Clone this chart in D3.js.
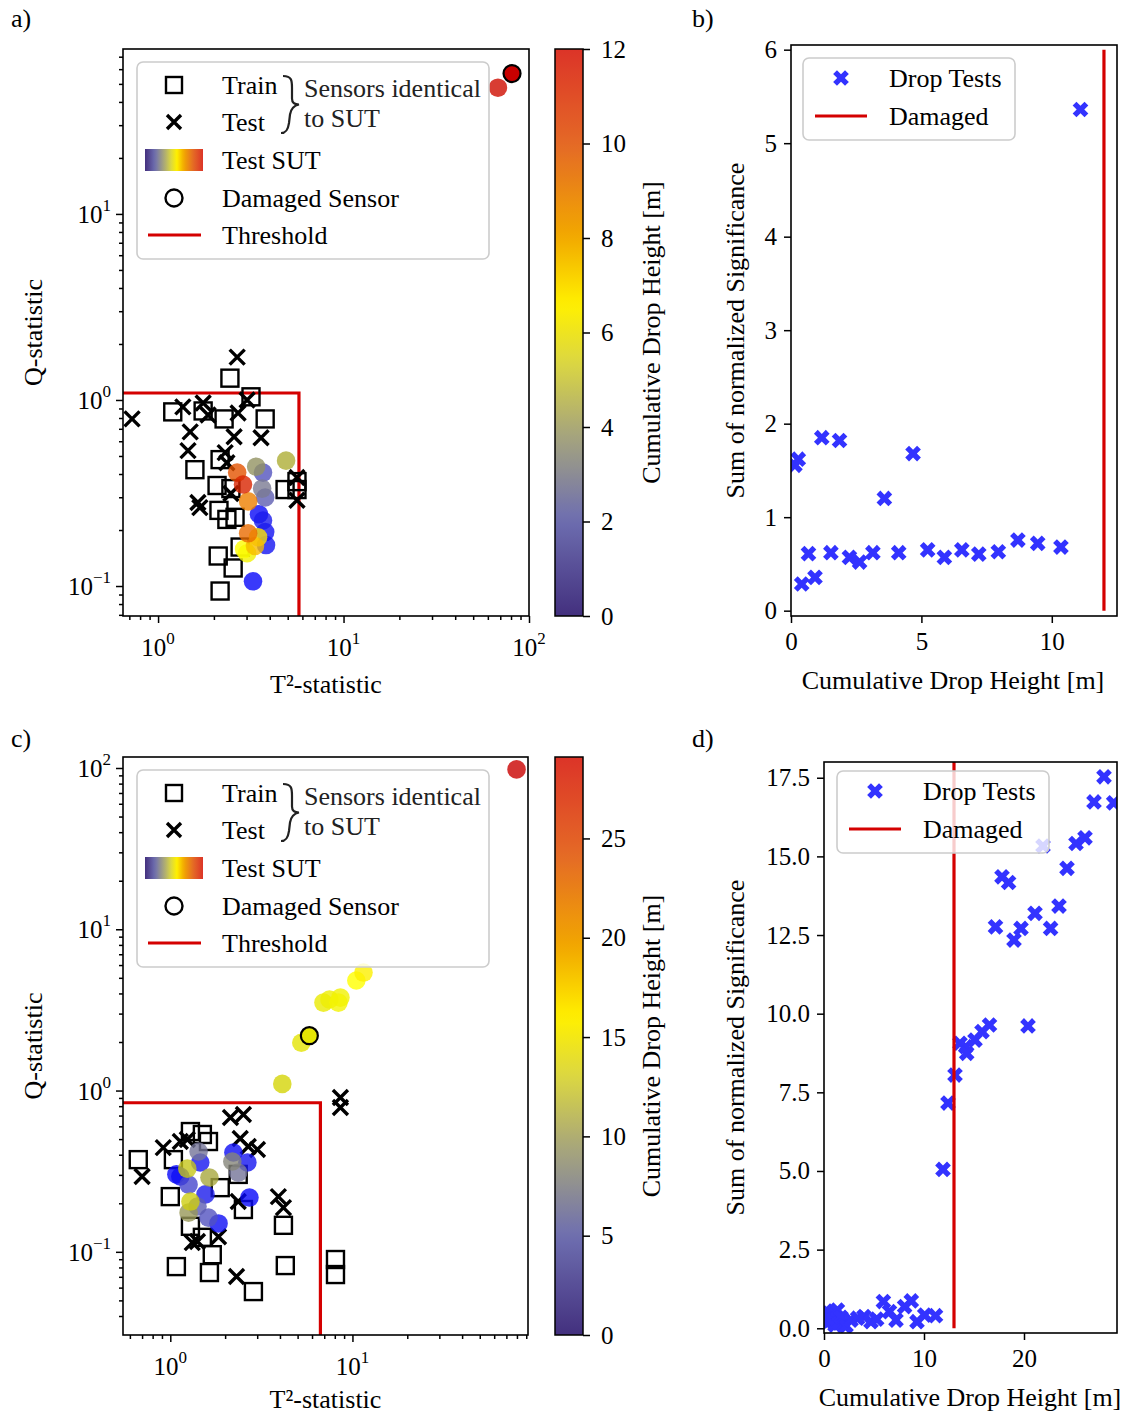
<!DOCTYPE html>
<html><head><meta charset="utf-8">
<script src="https://cdn.jsdelivr.net/npm/d3@7"></script>
<style>
body{margin:0;background:#fff}
svg{display:block}
text{font-family:"Liberation Serif","Times New Roman",serif;fill:#000}
</style></head>
<body><svg id="c" width="1128" height="1416"></svg>
<script>
// ---------------- DATA ----------------
// Panel a: [T2, Q]
const aTrain = [[2.44,1.31],[3.17,1.04],[1.20,0.863],[1.75,0.873],[2.27,0.791],[3.78,0.791],[1.58,0.422],[2.16,0.478],[2.08,0.347],[2.47,0.334],[4.84,0.330],[5.61,0.364],[5.61,0.330],[2.13,0.255],[2.35,0.228],[2.60,0.234],[2.77,0.162],[2.11,0.145],[2.54,0.125],[2.16,0.094]];
const aTest = [[2.67,1.70],[0.724,0.791],[1.36,0.918],[1.75,0.964],[1.86,0.831],[2.70,0.851],[3.02,1.0],[1.49,0.674],[2.57,0.634],[3.59,0.626],[1.45,0.534],[2.30,0.521],[1.64,0.281],[1.68,0.264],[5.61,0.289],[5.61,0.383],[2.35,0.460],[2.47,0.314]];
// [T2, Q, cumulative drop height]
const aSUT = [[4.90,0.472,4.3],[2.67,0.407,9.3],[2.87,0.351,10.5],[3.38,0.438,3.6],[3.68,0.407,2.3],[3.64,0.334,3.0],[3.78,0.299,2.5],[3.06,0.285,8.4],[3.50,0.243,0.3],[3.68,0.225,0.8],[3.78,0.195,0.5],[3.06,0.192,8.8],[3.46,0.183,7.0],[3.33,0.164,7.5],[3.02,0.150,6.2],[3.82,0.166,0.6],[3.25,0.106,0.2],[2.91,0.158,6.5],[68,47.7,11.5]];
const aDamaged = [[81,56.8,12]];
const aThreshold = [5.75, 1.09];       // [T2 limit, Q limit]
const aXDomain = [0.647, 100], aYDomain = [0.069, 77];
const aCbarMax = 12, aCbarTicks = [0,2,4,6,8,10,12];

// Panel c
const cTrain = [[0.667,0.373],[1.04,0.373],[1.29,0.557],[1.50,0.534],[1.62,0.483],[1.0,0.220],[1.88,0.250],[2.36,0.302],[2.52,0.183],[1.29,0.144],[1.50,0.123],[1.70,0.096],[1.08,0.081],[1.64,0.0744],[2.86,0.0567],[4.18,0.146],[4.28,0.0822],[8.07,0.0896],[8.07,0.0723]];
const cTest = [[0.70,0.293],[0.915,0.443],[1.135,0.483],[1.24,0.497],[2.14,0.680],[2.52,0.710],[2.42,0.504],[2.68,0.450],[3.01,0.431],[3.92,0.220],[4.18,0.188],[2.36,0.205],[1.32,0.114],[1.41,0.116],[1.84,0.124],[2.31,0.0703],[8.59,0.905],[8.59,0.785]];
const cSUT = [[1.135,0.293,1],[1.43,0.419,7],[1.46,0.358,1.5],[1.24,0.328,12],[1.64,0.289,10],[1.26,0.261,5],[1.56,0.227,2],[1.29,0.205,12.5],[1.26,0.175,9],[1.62,0.163,5.5],[1.84,0.150,1],[2.22,0.413,1],[2.19,0.363,8],[2.65,0.358,1.5],[2.36,0.310,7],[2.72,0.217,0.5],[1.41,0.191,6],[1.08,0.302,0.5],[11.5,5.39,16.5],[10.5,4.81,16],[6.93,3.51,14.5],[7.48,3.67,14.8],[8.59,3.77,15],[8.38,3.51,15.2],[5.24,1.98,14],[4.12,1.10,13],[79.6,98,29]];
const cDamaged = [[5.80,2.19,14.2]];
const cThreshold = [6.67, 0.84];
const cXDomain = [0.55, 92], cYDomain = [0.0305, 117];
const cCbarMax = 29.1, cCbarTicks = [0,5,10,15,20,25];

// Panel b: cumulative drop height vs sum of normalized significance
const bHeight = [0.15,0.28,1.18,1.86,4.68,3.58,0.41,0.92,0.67,1.53,2.24,2.63,3.14,4.13,5.24,5.88,6.55,7.2,7.95,8.7,9.46,10.35,11.1];
const bSig    = [1.555,1.62,1.85,1.82,1.68,1.20,0.285,0.356,0.61,0.62,0.57,0.52,0.62,0.62,0.65,0.57,0.65,0.605,0.63,0.755,0.72,0.68,5.36];
const bDamaged = [12, 0, 6];           // [height, from, to]
const bXTicks = [0,5,10], bYTicks = [0,1,2,3,4,5,6];

// Panel d
const dHeight = [0.1,0.2,0.3,0.4,0.5,0.6,0.84,1.0,1.1,1.34,1.5,1.7,2.0,2.2,2.7,3.36,4.0,4.7,5.27,5.94,6.55,7.2,8.06,8.73,9.3,10.07,11.15,11.9,12.4,13.1,13.6,14.17,14.27,15.1,15.8,16.55,17.15,17.8,18.46,19.0,19.7,20.4,21.1,21.9,22.66,23.5,24.3,25.2,26.1,27.0,28.0,28.97];
const dSig    = [0.35,0.55,0.16,0.45,0.48,0.25,0.26,0.3,0.1,0.58,0.16,0.35,0.1,0.07,0.26,0.32,0.37,0.21,0.29,0.85,0.53,0.26,0.69,0.87,0.21,0.42,0.40,5.05,7.16,8.05,9.06,8.95,8.74,9.16,9.43,9.64,12.76,14.35,14.17,12.34,12.71,9.61,13.19,15.33,12.71,13.42,14.62,15.41,15.59,16.73,17.53,16.70];
const dDamaged = [13, 0, 18];
const dXTicks = [0,10,20], dYTicks = [0,2.5,5,7.5,10,12.5,15,17.5];

// ---------------- STYLE ----------------
const RED = "#d40000", BLUE = "#3333ff";
const stopPos = [0,0.17,0.25,0.33,0.45,0.55,0.67,0.83,1];
const cbarCols = ["#43307e","#6e6eb0","#8c8c94","#aaa878","#dcd840","#fff000","#f2a800","#e46a26","#dc3428"];
const ptCols   = ["#0000ff","#4545ce","#7a7a92","#a1a145","#d6d606","#ffff00","#f29200","#dd3100","#c90000"];
const cbarScale = d3.scaleLinear().domain(stopPos).range(cbarCols).interpolate(d3.interpolateRgb).clamp(true);
const ptScale = d3.scaleLinear().domain(stopPos).range(ptCols).interpolate(d3.interpolateRgb).clamp(true);
const TICK_FS = 25, LAB_FS = 26;

const svg = d3.select("#c");
svg.append("rect").attr("width",1128).attr("height",1416).attr("fill","#fff");
const defs = svg.append("defs");

function supText(sel, n){
  sel.append("tspan").text("10");
  sel.append("tspan").attr("dy",-12).attr("font-size",17).text(n<0 ? "\u2212"+(-n) : String(n));
}
function styleAxis(g){
  g.select(".domain").remove();
  g.selectAll(".tick line").attr("stroke","#000").attr("stroke-width",1.5);
  g.selectAll(".tick text").attr("font-size",TICK_FS).attr("font-family",'"Liberation Serif",serif').attr("fill","#000");
}
function decades(d){const a=[];for(let n=Math.floor(Math.log10(d[0]));n<=Math.ceil(Math.log10(d[1]));n++){const v=Math.pow(10,n);if(v>=d[0]*0.9999&&v<=d[1]*1.0001)a.push(n);}return a;}
function minors(d){const a=[];for(let n=Math.floor(Math.log10(d[0]));n<=Math.ceil(Math.log10(d[1]));n++){for(let k=2;k<=9;k++){const v=k*Math.pow(10,n);if(v>=d[0]&&v<=d[1])a.push(v);}}return a;}

function rotLabel(x,y,txt){
  svg.append("text").attr("transform",`translate(${x},${y}) rotate(-90)`).attr("text-anchor","middle")
    .attr("dy","0.35em").attr("font-size",LAB_FS).text(txt);
}
function xMarker(g,cx,cy,s){
  g.append("path").attr("d",`M${cx-s},${cy-s}L${cx+s},${cy+s}M${cx-s},${cy+s}L${cx+s},${cy-s}`)
   .attr("stroke","#000").attr("stroke-width",3.4).attr("fill","none");
}
function bigX(){ // filled 'X' marker path centred at 0
  const w=2.7,L=8.4;
  const p=[[-w,-L],[w,-L],[w,-w],[L,-w],[L,w],[w,w],[w,L],[-w,L],[-w,w],[-L,w],[-L,-w],[-w,-w]];
  const c=Math.SQRT1_2;
  return "M"+p.map(([x,y])=>[(x-y)*c,(x+y)*c].join(",")).join("L")+"Z";
}

// ---------- scatter panel (a, c) ----------
function scatterPanel(o){
  const {L,R,T,B} = o;
  const x = d3.scaleLog().domain(o.xd).range([L,R]);
  const y = d3.scaleLog().domain(o.yd).range([B,T]);
  const id = "clip"+o.name;
  defs.append("clipPath").attr("id",id).append("rect").attr("x",L).attr("y",T).attr("width",R-L).attr("height",B-T);
  const g = svg.append("g");
  const pg = g.append("g").attr("clip-path",`url(#${id})`);
  // threshold
  const th = o.thr;
  pg.append("path").attr("d",`M${L},${y(th[1])}H${x(th[0])}V${B}`).attr("fill","none").attr("stroke",RED).attr("stroke-width",3.2);
  // train squares
  pg.selectAll(".sq").data(o.train).join("rect").attr("x",d=>x(d[0])-8.5).attr("y",d=>y(d[1])-8.5)
    .attr("width",17).attr("height",17).attr("fill","none").attr("stroke","#000").attr("stroke-width",2.4);
  // test x
  o.test.forEach(d=>xMarker(pg,x(d[0]),y(d[1]),7.5));
  // SUT
  const sut = o.sut.slice().sort((a,b)=>a[2]-b[2]);
  pg.selectAll(".sut").data(sut).join("circle").attr("cx",d=>x(d[0])).attr("cy",d=>y(d[1])).attr("r",9.3)
    .attr("fill",d=>ptScale(d[2]/o.cmax)).attr("fill-opacity",0.8);
  pg.selectAll(".dam").data(o.dam).join("circle").attr("cx",d=>x(d[0])).attr("cy",d=>y(d[1])).attr("r",8.5)
    .attr("fill",d=>ptScale(d[2]/o.cmax)).attr("stroke","#000").attr("stroke-width",2.2);
  // axes
  const xa = g.append("g").attr("transform",`translate(0,${B})`);
  xa.append("g").call(d3.axisBottom(x).tickValues(decades(o.xd).map(n=>Math.pow(10,n))).tickSize(7).tickFormat("")).call(styleAxis);
  xa.append("g").call(d3.axisBottom(x).tickValues(minors(o.xd)).tickSize(4).tickFormat("")).call(styleAxis);
  decades(o.xd).forEach(n=>{
    const t = g.append("text").attr("x",x(Math.pow(10,n))).attr("y",B+40).attr("text-anchor","middle").attr("font-size",TICK_FS);
    supText(t,n);
  });
  const ya = g.append("g").attr("transform",`translate(${L},0)`);
  ya.append("g").call(d3.axisLeft(y).tickValues(decades(o.yd).map(n=>Math.pow(10,n))).tickSize(7).tickFormat("")).call(styleAxis);
  ya.append("g").call(d3.axisLeft(y).tickValues(minors(o.yd)).tickSize(4).tickFormat("")).call(styleAxis);
  decades(o.yd).forEach(n=>{
    const t = g.append("text").attr("x",L-12).attr("y",y(Math.pow(10,n))+9).attr("text-anchor","end").attr("font-size",TICK_FS);
    supText(t,n);
  });
  g.append("rect").attr("x",L).attr("y",T).attr("width",R-L).attr("height",B-T).attr("fill","none").attr("stroke","#000").attr("stroke-width",1.6);
  g.append("text").attr("x",(L+R)/2).attr("y",Math.min(B+77,1408)).attr("text-anchor","middle").attr("font-size",LAB_FS).text("T\u00b2-statistic");
  rotLabel(33,(T+B)/2,"Q-statistic");
  // legend
  const lx=L+14, ly=T+13;
  const lg = g.append("g");
  lg.append("rect").attr("x",lx).attr("y",ly).attr("width",352).attr("height",197).attr("rx",6)
    .attr("fill","#fff").attr("fill-opacity",0.8).attr("stroke","#cccccc").attr("stroke-width",1.6);
  const mx = lx+37, tx = lx+85;
  const rows = [23,60,98,136,173].map(v=>ly+v);
  lg.append("rect").attr("x",mx-8).attr("y",rows[0]-8).attr("width",16).attr("height",16).attr("fill","none").attr("stroke","#000").attr("stroke-width",2.4);
  xMarker(lg,mx,rows[1],7);
  const gid="lgrad"+o.name;
  const lgGrad = defs.append("linearGradient").attr("id",gid).attr("x1",0).attr("x2",1).attr("y1",0).attr("y2",0);
  d3.range(0,1.0001,0.05).forEach(t=>lgGrad.append("stop").attr("offset",t).attr("stop-color",cbarScale(t)));
  lg.append("rect").attr("x",lx+8).attr("y",rows[2]-11).attr("width",58).attr("height",22).attr("fill",`url(#${gid})`);
  lg.append("circle").attr("cx",mx).attr("cy",rows[3]).attr("r",8.5).attr("fill","none").attr("stroke","#000").attr("stroke-width",2.4);
  lg.append("line").attr("x1",lx+11).attr("x2",lx+64).attr("y1",rows[4]).attr("y2",rows[4]).attr("stroke",RED).attr("stroke-width",3.2);
  ["Train","Test","Test SUT","Damaged Sensor","Threshold"].forEach((s,i)=>
    lg.append("text").attr("x",tx).attr("y",rows[i]).attr("dy","0.33em").attr("font-size",LAB_FS).text(s));
  // brace
  const bx = lx+146, by0 = ly+14, by1 = ly+71, bm = (by0+by1)/2;
  lg.append("path").attr("d",`M${bx},${by0} C${bx+9},${by0} ${bx+9},${by0+5} ${bx+9},${by0+12} L${bx+9},${bm-6} C${bx+9},${bm-2} ${bx+12},${bm} ${bx+16},${bm} C${bx+11},${bm+1} ${bx+8},${bm+4} ${bx+7},${bm+10} L${bx+6},${by1-10} C${bx+5},${by1-3} ${bx+3},${by1} ${bx-2},${by1}`)
    .attr("fill","none").attr("stroke","#222").attr("stroke-width",2.2);
  lg.append("text").attr("x",lx+167).attr("y",ly+26).attr("dy","0.33em").attr("font-size",LAB_FS).style("fill","#222").text("Sensors identical");
  lg.append("text").attr("x",lx+167).attr("y",ly+56).attr("dy","0.33em").attr("font-size",LAB_FS).style("fill","#222").text("to SUT");
  // colorbar
  const cx0 = o.cbx, cw = 28;
  const cs = d3.scaleLinear().domain([0,o.cmax]).range([B,T]);
  const cgid="cgrad"+o.name;
  const cg = defs.append("linearGradient").attr("id",cgid).attr("x1",0).attr("x2",0).attr("y1",1).attr("y2",0);
  d3.range(0,1.0001,0.02).forEach(t=>cg.append("stop").attr("offset",t).attr("stop-color",cbarScale(t)));
  g.append("rect").attr("x",cx0).attr("y",T).attr("width",cw).attr("height",B-T).attr("fill",`url(#${cgid})`).attr("stroke","#000").attr("stroke-width",1.5);
  g.append("g").attr("transform",`translate(${cx0+cw},0)`).call(d3.axisRight(cs).tickValues(o.cticks).tickSize(7).tickPadding(11).tickFormat(d3.format("d"))).call(styleAxis);
  rotLabel(651,(T+B)/2,"Cumulative Drop Height [m]");
}

// ---------- significance panel (b, d) ----------
function sigPanel(o){
  const {L,R,T,B} = o;
  const x = d3.scaleLinear().domain(o.xd).range([L,R]);
  const y = d3.scaleLinear().domain(o.yd).range([B,T]);
  const id = "clip"+o.name;
  defs.append("clipPath").attr("id",id).append("rect").attr("x",L).attr("y",T).attr("width",R-L).attr("height",B-T);
  const g = svg.append("g");
  const pg = g.append("g").attr("clip-path",`url(#${id})`);
  const pts = o.h.map((h,i)=>[h,o.s[i]]);
  pg.selectAll(".x").data(pts).join("path").attr("d",bigX()).attr("transform",d=>`translate(${x(d[0])},${y(d[1])})`).attr("fill",BLUE);
  pg.append("line").attr("x1",x(o.dam[0])).attr("x2",x(o.dam[0])).attr("y1",y(o.dam[1])).attr("y2",y(o.dam[2])).attr("stroke",RED).attr("stroke-width",3.2);
  g.append("g").attr("transform",`translate(0,${B})`).call(d3.axisBottom(x).tickValues(o.xt).tickSize(7).tickPadding(9).tickFormat(d3.format("d"))).call(styleAxis);
  g.append("g").attr("transform",`translate(${L},0)`).call(d3.axisLeft(y).tickValues(o.yt).tickSize(7).tickPadding(7).tickFormat(o.yfmt)).call(styleAxis);
  g.append("rect").attr("x",L).attr("y",T).attr("width",R-L).attr("height",B-T).attr("fill","none").attr("stroke","#000").attr("stroke-width",1.6);
  g.append("text").attr("x",o.xlabX).attr("y",B+73).attr("text-anchor","middle").attr("font-size",LAB_FS).text("Cumulative Drop Height [m]");
  rotLabel(735,(T+B)/2,"Sum of normalized Significance");
  // legend
  const lx=o.lx, ly=o.ly;
  g.append("rect").attr("x",lx).attr("y",ly).attr("width",212).attr("height",82).attr("rx",6)
    .attr("fill","#fff").attr("fill-opacity",0.8).attr("stroke","#cccccc").attr("stroke-width",1.6);
  g.append("path").attr("d",bigX()).attr("transform",`translate(${lx+38},${ly+20})`).attr("fill",BLUE);
  g.append("line").attr("x1",lx+12).attr("x2",lx+64).attr("y1",ly+58).attr("y2",ly+58).attr("stroke",RED).attr("stroke-width",3.2);
  g.append("text").attr("x",lx+86).attr("y",ly+20).attr("dy","0.33em").attr("font-size",LAB_FS).text("Drop Tests");
  g.append("text").attr("x",lx+86).attr("y",ly+58).attr("dy","0.33em").attr("font-size",LAB_FS).text("Damaged");
}

scatterPanel({name:"a",L:123,R:529,T:49,B:616,xd:aXDomain,yd:aYDomain,train:aTrain,test:aTest,sut:aSUT,dam:aDamaged,thr:aThreshold,cmax:aCbarMax,cticks:aCbarTicks,cbx:555});
scatterPanel({name:"c",L:123,R:528,T:757,B:1335,xd:cXDomain,yd:cYDomain,train:cTrain,test:cTest,sut:cSUT,dam:cDamaged,thr:cThreshold,cmax:cCbarMax,cticks:cCbarTicks,cbx:555});
sigPanel({name:"b",L:791,R:1117,T:45,B:616,xd:[0,12.5],yd:[-0.057,6.05],h:bHeight,s:bSig,dam:bDamaged,xt:bXTicks,yt:bYTicks,yfmt:d3.format("d"),lx:803,ly:58,xlabX:953});
sigPanel({name:"d",L:824,R:1117,T:762,B:1333,xd:[0,29.3],yd:[-0.15,18.0],h:dHeight,s:dSig,dam:dDamaged,xt:dXTicks,yt:dYTicks,yfmt:d3.format(".1f"),lx:837,ly:771,xlabX:970});

[["a)",11,27],["b)",692,27],["c)",11,747],["d)",692,747]].forEach(([t,x,y])=>
  svg.append("text").attr("x",x).attr("y",y).attr("font-size",LAB_FS).text(t));
</script></body></html>
